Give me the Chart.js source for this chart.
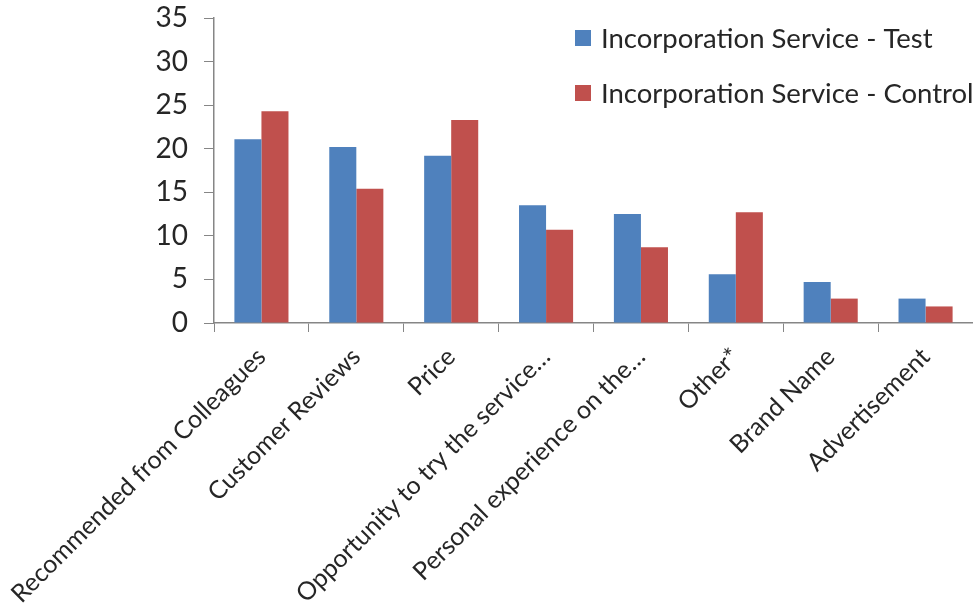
<!DOCTYPE html>
<html lang="en">
<head>
  <meta charset="UTF-8" />
  <title>Incorporation Service - Test vs Control</title>
  <script src="https://cdn.jsdelivr.net/npm/chart.js"></script>
  <style>
    html, body { margin: 0; padding: 0; background: #fff; }
    #wrap { width: 973px; height: 607px; position: relative; }
  </style>
</head>
<body>
  <div id="wrap"><canvas id="chart"></canvas></div>

  <script>
    // data
    const categories = [
      'Recommended from Colleagues',
      'Customer Reviews',
      'Price',
      'Opportunity to try the service…',
      'Personal experience on the…',
      'Other*',
      'Brand Name',
      'Advertisement'
    ];
    const testValues = [21.1, 20.2, 19.2, 13.5, 12.5, 5.6, 4.7, 2.8];
    const controlValues = [24.3, 15.4, 23.3, 10.7, 8.7, 12.7, 2.8, 1.9];
    const seriesNames = ['Incorporation Service - Test', 'Incorporation Service - Control'];
    const yTicks = [0, 5, 10, 15, 20, 25, 30, 35];

    const FONT = 'Lato';
    const axisColor = '#868686';
    const textColor = '#262626';

    // legend drawn inside the plot, top right
    const legendBox = {
      id: 'legendBox',
      afterDraw(chart) {
        const c = chart.ctx;
        c.save();
        c.font = '27.5px ' + FONT;
        c.textBaseline = 'middle';
        chart.data.datasets.forEach((ds, i) => {
          const y = 38 + i * 55;
          c.fillStyle = ds.backgroundColor;
          c.fillRect(575, y - 8, 16, 16);
          c.fillStyle = textColor;
          c.fillText(ds.label, 601, y + 1);
        });
        c.restore();
      }
    };

    new Chart(document.getElementById('chart'), {
      type: 'bar',
      data: {
        labels: categories,
        datasets: [
          { label: seriesNames[0], data: testValues, backgroundColor: '#4f81bd' },
          { label: seriesNames[1], data: controlValues, backgroundColor: '#c0504d' }
        ]
      },
      options: {
        responsive: true,
        maintainAspectRatio: false,
        animation: false,
        layout: { padding: { top: 18, left: 0, right: 0, bottom: 0 } },
        datasets: { bar: { categoryPercentage: 0.57, barPercentage: 1 } },
        plugins: { legend: { display: false }, tooltip: { enabled: false } },
        scales: {
          x: {
            grid: { drawOnChartArea: false, tickLength: 9, color: axisColor, offset: true },
            border: { color: axisColor, width: 1.5 },
            ticks: {
              color: textColor, font: { family: FONT, size: 25 },
              minRotation: 45, maxRotation: 45, autoSkip: false, padding: 10
            },
            afterFit: s => { s.height = 284; s.paddingLeft = 0; s.paddingRight = 0; }
          },
          y: {
            min: 0, max: 35,
            afterBuildTicks: s => { s.ticks = yTicks.map(v => ({ value: v })); },
            grid: { drawOnChartArea: false, tickLength: 10, color: axisColor },
            border: { color: axisColor, width: 1.5 },
            ticks: { color: textColor, font: { family: FONT, size: 28 }, padding: 16 },
            afterFit: s => { s.width = 214; s.paddingTop = 0; s.paddingBottom = 0; }
          }
        }
      },
      plugins: [legendBox]
    });
  </script>
</body>
</html>
